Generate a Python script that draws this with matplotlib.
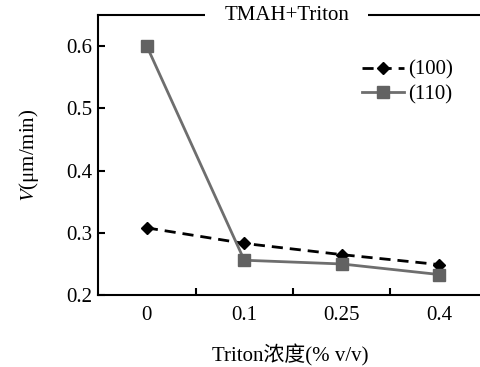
import matplotlib.pyplot as plt

plt.rcParams['font.family'] = ['Liberation Serif', 'Noto Sans CJK SC']
plt.rcParams['mathtext.fontset'] = 'stix'

# dados
concentracoes = ['0', '0.1', '0.25', '0.4']
v_100 = [0.308, 0.283, 0.265, 0.249]
v_110 = [0.600, 0.256, 0.250, 0.233]
yticks = [0.2, 0.3, 0.4, 0.5, 0.6]


def gerar_grafico():
    fig = plt.figure(figsize=(4.81, 3.67), dpi=100)
    ax = fig.add_axes([0.204, 0.196, 0.80, 0.763])

    x = range(len(concentracoes))
    ax.plot(x, v_100, color='black', linestyle='--', linewidth=2,
            marker='D', markersize=6, label='(100)', dashes=(4, 2.5))
    ax.plot(x, v_110, color='#6e6e6e', linestyle='-', linewidth=2,
            marker='s', markersize=8, markerfacecolor='#626262',
            markeredgecolor='#626262', label='(110)')

    ax.set_xlim(-0.5, 3.45)
    ax.set_ylim(0.2, 0.65)
    ax.set_yticks(yticks)
    ax.set_yticklabels([f'{v:.1f}' for v in yticks])
    ax.set_xticks(list(x))
    ax.set_xticklabels(concentracoes)
    ax.set_xticks([0.5, 1.5, 2.5], minor=True)

    ax.tick_params(axis='y', direction='in', length=5, width=1.5, labelsize=15, pad=4)
    ax.tick_params(axis='x', which='major', length=0, labelsize=15, pad=8)
    ax.tick_params(axis='x', which='minor', direction='in', length=5, width=1.5)

    ax.spines['right'].set_visible(False)
    for s in ['left', 'bottom', 'top']:
        ax.spines[s].set_linewidth(1.5)

    # titulo sobre a linha superior
    ax.text(0.49, 1.0, 'TMAH+Triton', transform=ax.transAxes, ha='center', va='center',
            fontsize=15, bbox=dict(facecolor='white', edgecolor='none', pad=14))

    ax.set_ylabel('$V$(μm/min)', fontsize=15, labelpad=18)
    ax.set_xlabel('Triton浓度(% v/v)', fontsize=15, labelpad=14)

    ax.legend(loc='upper right', bbox_to_anchor=(0.97, 0.905), frameon=False, fontsize=15,
              handlelength=2.0, handletextpad=0.2, labelspacing=0.25)

    fig.savefig('out.png', dpi=100)


if __name__ == "__main__":
    gerar_grafico()
